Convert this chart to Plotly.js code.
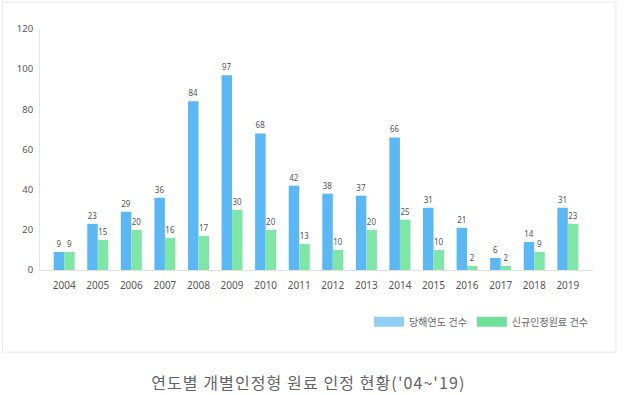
<!DOCTYPE html>
<html><head><meta charset="utf-8">
<script src="https://cdn.plot.ly/plotly-3.0.1.min.js"></script>
<style>html,body{margin:0;padding:0;background:#fff;}#c{width:625px;height:395px;}
#c .annotation-text{letter-spacing:1.1px;}</style>
</head><body><div id="c"></div>
<script>
const years = ['2004','2005','2006','2007','2008','2009','2010','2011','2012','2013','2014','2015','2016','2017','2018','2019'];
const currentYear = [9,23,29,36,84,97,68,42,38,37,66,31,21,6,14,31];
const newlyApproved = [9,15,20,16,17,30,20,13,10,20,25,10,2,2,9,23];
const seriesNames = ['당해연도 건수','신규인정원료 건수'];
const caption = "연도별 개별인정형 원료 인정 현황('04~'19)";

const F = 'Noto Sans, Noto Sans CJK KR, sans-serif';
const barColors = ['#5cb8f4','#7fe6a7'];
const legendColors = ['#91cff4','#6fdf99'];

const traces = [
  {type:'bar', x:years, y:currentYear, name:seriesNames[0], marker:{color:barColors[0]},
   text:currentYear.map(String), textposition:'outside', cliponaxis:false,
   textfont:{size:8, color:'#555', family:F}, showlegend:false, hoverinfo:'x+y'},
  {type:'bar', x:years, y:newlyApproved, name:seriesNames[1], marker:{color:barColors[1]},
   text:newlyApproved.map(String), textposition:'outside', cliponaxis:false,
   textfont:{size:8, color:'#555', family:F}, showlegend:false, hoverinfo:'x+y'},
  {type:'scatter', mode:'lines', x:[null], y:[null], name:seriesNames[0], line:{color:legendColors[0], width:10}, showlegend:true},
  {type:'scatter', mode:'lines', x:[null], y:[null], name:seriesNames[1], line:{color:legendColors[1], width:10}, showlegend:true}
];

const layout = {
  width:625, height:395,
  margin:{l:40, r:32, t:29, b:125},
  paper_bgcolor:'#fff', plot_bgcolor:'#fff',
  font:{family:F, color:'#555'},
  barmode:'group', bargap:0.375, bargroupgap:0,
  xaxis:{type:'category', range:[-0.72,15.75], showgrid:false, zeroline:false,
    showline:true, linecolor:'#e2e2e2', linewidth:1, ticks:'', ticklabelstandoff:6,
    tickfont:{size:10, color:'#555', family:F}, fixedrange:true},
  yaxis:{range:[0,120], dtick:20, showgrid:false, zeroline:false,
    showline:true, linecolor:'#e6e6e6', linewidth:1, ticks:'', ticklabelstandoff:4,
    tickfont:{size:9.5, color:'#555', family:F}, fixedrange:true},
  showlegend:true,
  legend:{orientation:'h', x:0.595, xanchor:'left', y:-0.215, yanchor:'middle',
    font:{size:10, color:'#666', family:F}, itemwidth:30, bgcolor:'rgba(0,0,0,0)'},
  shapes:[
    {type:'rect', xref:'paper', yref:'paper', x0:-0.068, x1:1.0415, y0:-0.341, y1:1.112,
     line:{color:'#e8e8e8', width:1}, fillcolor:'rgba(0,0,0,0)', layer:'below'}
  ],
  annotations:[
    {text:caption, xref:'paper', yref:'paper', x:0.486, y:-0.465, xanchor:'center', yanchor:'middle',
     showarrow:false, font:{size:16, color:'#626262', family:'Noto Sans CJK KR, sans-serif'}}
  ]
};
Plotly.newPlot('c', traces, layout, {displayModeBar:false, staticPlot:true});
</script></body></html>
